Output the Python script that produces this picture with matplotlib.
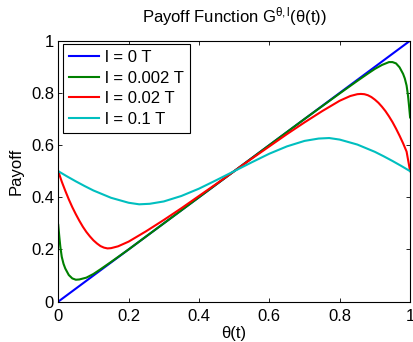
import matplotlib
matplotlib.use("Agg")
import matplotlib.pyplot as plt

plt.rcParams['font.family'] = ['Liberation Sans', 'DejaVu Sans']
plt.rcParams['mathtext.fontset'] = 'custom'
plt.rcParams['mathtext.rm'] = 'Liberation Sans'
plt.rcParams['mathtext.it'] = 'Liberation Sans'

# values
labels = ["l = 0 T", "l = 0.002 T", "l = 0.02 T", "l = 0.1 T"]

x_l0 = [0.0, 1.0]
y_l0 = [0.0, 1.0]

x_l002 = [0, 0.003, 0.006, 0.01, 0.015, 0.02, 0.03, 0.04, 0.05, 0.06, 0.08,
          0.10, 0.12, 0.15, 0.2, 0.3, 0.4, 0.5, 0.6, 0.7, 0.8, 0.85, 0.88,
          0.9, 0.92, 0.94, 0.95, 0.96, 0.97, 0.98, 0.985, 0.99, 0.994,
          0.997, 1.0]
y_l002 = [0.294, 0.25, 0.21, 0.172, 0.145, 0.127, 0.102, 0.089, 0.084, 0.085,
          0.092, 0.106, 0.124, 0.152, 0.2, 0.3, 0.4, 0.5, 0.6, 0.7, 0.798,
          0.846, 0.874, 0.892, 0.907, 0.918, 0.918, 0.913, 0.898, 0.873,
          0.855, 0.828, 0.79, 0.75, 0.706]

x_l02 = [0, 0.01, 0.02, 0.03, 0.04, 0.05, 0.06, 0.07, 0.08, 0.09, 0.10, 0.11,
         0.12, 0.13, 0.14, 0.15, 0.17, 0.2, 0.25, 0.3, 0.35, 0.4, 0.45, 0.5,
         0.55, 0.6, 0.65, 0.7, 0.75, 0.8, 0.83, 0.85, 0.86, 0.87, 0.88, 0.89,
         0.9, 0.91, 0.92, 0.93, 0.94, 0.95, 0.96, 0.97, 0.98, 0.99, 1.0]
y_l02 = [0.5, 0.46, 0.425, 0.392, 0.362, 0.335, 0.31, 0.287, 0.267, 0.25,
         0.235, 0.223, 0.213, 0.207, 0.204, 0.205, 0.212, 0.23, 0.27, 0.313,
         0.358, 0.405, 0.452, 0.5, 0.548, 0.595, 0.642, 0.687, 0.73, 0.77,
         0.788, 0.795, 0.796, 0.795, 0.791, 0.784, 0.774, 0.762, 0.747,
         0.73, 0.71, 0.688, 0.663, 0.636, 0.607, 0.575, 0.5]

x_l1 = [0, 0.025, 0.05, 0.075, 0.1, 0.15, 0.2, 0.23, 0.26, 0.3, 0.35, 0.4,
        0.45, 0.5, 0.55, 0.6, 0.65, 0.7, 0.74, 0.77, 0.8, 0.85, 0.9, 0.925,
        0.95, 0.975, 1.0]
y_l1 = [0.5, 0.48, 0.461, 0.443, 0.426, 0.398, 0.379, 0.373, 0.375, 0.384,
        0.405, 0.433, 0.466, 0.5, 0.534, 0.567, 0.595, 0.616, 0.625, 0.627,
        0.621, 0.602, 0.574, 0.557, 0.539, 0.52, 0.5]

fig = plt.figure(figsize=(4.13, 3.42), dpi=100)
ax = fig.add_axes([0.141, 0.118, 0.852, 0.763])

ax.plot(x_l0, y_l0, color=(0, 0, 1), lw=1.5, label=labels[0])
ax.plot(x_l002, y_l002, color=(0, 0.5, 0), lw=1.5, label=labels[1])
ax.plot(x_l02, y_l02, color=(1, 0, 0), lw=1.5, label=labels[2])
ax.plot(x_l1, y_l1, color=(0, 0.75, 0.75), lw=1.5, label=labels[3])

ax.set_xlim(0, 1)
ax.set_ylim(0, 1)
ax.set_xticks([0, 0.2, 0.4, 0.6, 0.8, 1])
ax.set_yticks([0, 0.2, 0.4, 0.6, 0.8, 1])
ax.set_xticklabels(["0", "0.2", "0.4", "0.6", "0.8", "1"])
ax.set_yticklabels(["0", "0.2", "0.4", "0.6", "0.8", "1"])
ax.tick_params(direction='in', length=3, width=0.6, labelsize=12,
               top=True, right=True)
ax.tick_params(axis='y', pad=3)
ax.tick_params(axis='x', pad=5)
for s in ax.spines.values():
    s.set_linewidth(0.8)

ax.set_xlabel("θ(t)", fontsize=12, labelpad=2)
ax.set_ylabel("Payoff", fontsize=12, labelpad=5)
ax.set_title(r"Payoff Function G$^{\mathrm{θ,l}}$(θ(t))", fontsize=12, pad=13)

leg = ax.legend(loc='upper left', bbox_to_anchor=(0.014, 0.986), fontsize=12,
                fancybox=False, framealpha=1, edgecolor='black',
                handlelength=1.8, handletextpad=0.35, labelspacing=0.33,
                borderpad=0.35, borderaxespad=0)
leg.get_frame().set_linewidth(0.8)

fig.savefig("out.png", dpi=100)
